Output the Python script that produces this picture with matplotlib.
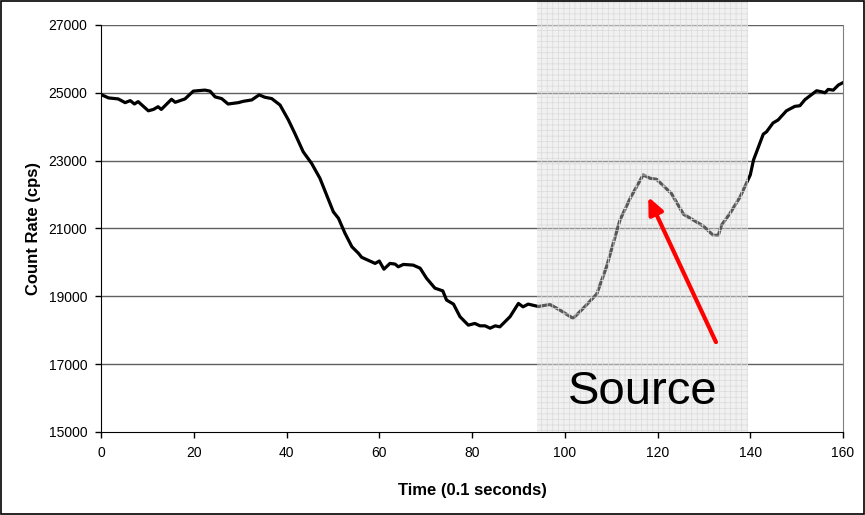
import numpy as np
import matplotlib
matplotlib.use("Agg")
import matplotlib.pyplot as plt
from matplotlib.patches import Rectangle

plt.rcParams['font.family'] = ['Liberation Sans', 'DejaVu Sans']
plt.rcParams['hatch.color'] = '#dadada'
plt.rcParams['hatch.linewidth'] = 0.5

# count rate
time = [0, 1.6, 3.7, 5.2, 6.3, 7.2, 8, 10.2, 11.3, 12.3, 13, 15.2, 16, 18.1, 19.9,
        22.4, 23.5, 24.6, 26, 27.4, 29.6, 30.7, 32.5, 34.1, 35.3, 36.8, 38.6, 40.4,
        41.8, 43.6, 45.4, 47.2, 50.1, 51.2, 52.6, 54.1, 55.5, 56.2, 59.1, 60, 61,
        62.3, 63.4, 64.1, 65.2, 67.3, 68.8, 70.2, 72, 73.7, 74.5, 76, 77.4, 79.2,
        80.6, 81.7, 82.8, 83.9, 85, 86, 88.2, 90, 91, 92.1, 94.3, 96.8, 99, 101.8,
        104, 106.9, 109, 111.9, 114.1, 116.9, 118.4, 119.8, 123, 125.6, 127.7,
        129.9, 132, 133.1, 133.8, 135.6, 137.8, 140, 140.7, 142.8, 143.5, 144.9,
        146, 147.8, 149.6, 150.7, 151.8, 154.3, 155.4, 156.1, 156.8, 157.9, 159, 160]
count_rate = [24950, 24850, 24820, 24710, 24770, 24670, 24740, 24470, 24510, 24590,
              24510, 24810, 24720, 24820, 25050, 25080, 25050, 24880, 24830, 24670,
              24710, 24750, 24790, 24940, 24870, 24830, 24640, 24200, 23800, 23260,
              22920, 22480, 21490, 21300, 20860, 20460, 20270, 20150, 19970, 20040,
              19800, 19970, 19950, 19870, 19940, 19920, 19830, 19530, 19240, 19160,
              18890, 18770, 18400, 18150, 18200, 18130, 18130, 18060, 18130, 18100,
              18400, 18790, 18690, 18770, 18700, 18760, 18590, 18350, 18650, 19070,
              19870, 21250, 21890, 22580, 22480, 22450, 22030, 21420, 21250, 21070,
              20800, 20800, 21100, 21440, 21930, 22580, 23020, 23780, 23850, 24110,
              24200, 24470, 24600, 24620, 24800, 25060, 25030, 25000, 25100, 25080,
              25230, 25300]

source_span = (94, 139.5)
arrow_tail = (132.6, 17650)
arrow_head = (118.0, 21930)

fig = plt.figure(figsize=(8.65, 5.15), dpi=100)
ax = fig.add_axes([0.1168, 0.1612, 0.8578, 0.7903])

ax.plot(time, count_rate, color='black', lw=2.3, zorder=3)

for yv in range(17000, 27001, 2000):
    ax.axhline(yv, color='#606060', lw=1.0, zorder=1)

# shaded source region, reaches up to the top of the figure
ax.axvspan(source_span[0], source_span[1], ymin=0, ymax=1.062,
           facecolor=(0.87, 0.87, 0.87, 0.4), edgecolor='#dadada', hatch='+++',
           lw=0, zorder=4, clip_on=False)

ax.annotate('', xy=arrow_head, xytext=arrow_tail,
            arrowprops=dict(arrowstyle='-|>,head_length=1.0,head_width=0.45',
                            color='#ff0000', lw=3, shrinkA=0, shrinkB=0),
            zorder=5)
ax.text(116.9, 16180, 'Source', fontsize=34, ha='center', va='center', zorder=6)

ax.set_xlim(0, 160)
ax.set_ylim(15000, 27000)
ax.set_xticks(np.arange(0, 161, 20))
ax.set_yticks(np.arange(15000, 27001, 2000))
ax.tick_params(direction='out', length=4, width=1, labelsize=10, pad=6)

ax.spines['top'].set_visible(False)
ax.spines['right'].set_color('#808080')
ax.spines['left'].set_color('black')
ax.spines['bottom'].set_color('black')

ax.set_xlabel('Time (0.1 seconds)', fontsize=12, fontweight='bold', labelpad=17)
ax.set_ylabel('Count Rate (cps)', fontsize=12, fontweight='bold', labelpad=5)

fig.patches.append(Rectangle((0.001, 0.001), 0.998, 0.998, transform=fig.transFigure,
                             fill=False, edgecolor='black', lw=1.2))

fig.savefig('out.png', dpi=100)
